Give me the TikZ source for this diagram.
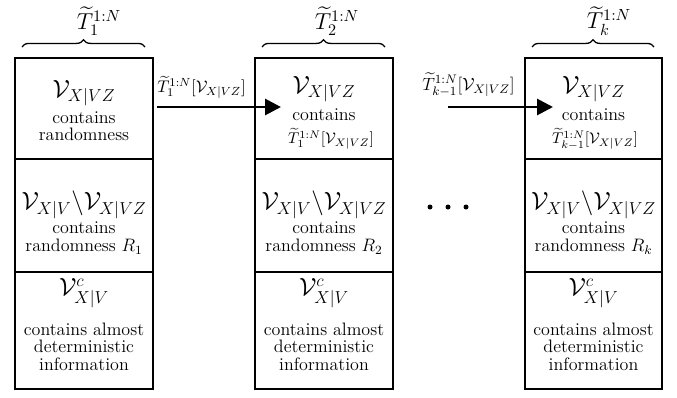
\documentclass[tikz,border=0pt]{standalone}
\usepackage{fix-cm}
\usepackage{amsmath,amssymb}
\usetikzlibrary{decorations.pathreplacing,arrows.meta}
\begin{document}
\begin{tikzpicture}[x=0.694pt,y=-0.694pt,
  part/.style={draw, line width=1.4pt, inner sep=0pt, minimum width=138*0.694pt},
  parttop/.style={part, minimum height=101*0.694pt},
  partmid/.style={part, minimum height=113*0.694pt},
  partbot/.style={part, minimum height=117*0.694pt},
  title/.style={inner sep=0pt, font=\LARGE},
  body/.style={inner sep=0pt, align=center, font=\fontsize{12.5}{12.2}\selectfont},
  lab/.style={inner sep=0pt, font=\fontsize{16}{19}\selectfont},
  alab/.style={inner sep=0pt, font=\fontsize{11.7}{14}\selectfont},
  ilab/.style={inner sep=0pt, font=\fontsize{10.8}{13}\selectfont},
  arr/.style={line width=2pt, -{Triangle[length=11pt,width=11pt]}},
  brc/.style={line width=0.9pt, decorate, decoration={brace, amplitude=5pt}},
  dot/.style={circle, fill, inner sep=0pt, minimum size=5*0.694pt}]
\useasboundingbox (0,0) rectangle (677,397);

% column 1
\node[parttop] (t1) at (84,108.5) {};
\node[partmid] (m1) at (84,215.5) {};
\node[partbot] (b1) at (84,330.5) {};
% column 2
\node[parttop] (t2) at (324,108.5) {};
\node[partmid] (m2) at (324,215.5) {};
\node[partbot] (b2) at (324,330.5) {};
% column 3
\node[parttop, minimum width=137*0.694pt] (t3) at (593.5,108.5) {};
\node[partmid, minimum width=137*0.694pt] (m3) at (593.5,215.5) {};
\node[partbot, minimum width=137*0.694pt] (b3) at (593.5,330.5) {};

% braces and labels
\coordinate (bl1) at (22,47); \coordinate (br1) at (145,47);
\coordinate (bl2) at (262,47); \coordinate (br2) at (385,47);
\coordinate (bl3) at (532,47); \coordinate (br3) at (654,47);
\draw[brc] (bl1) -- (br1);
\draw[brc] (bl2) -- (br2);
\draw[brc] (bl3) -- (br3);
\node[lab] (L1) at (99,21) {$\widetilde{T}_1^{1:N}$};
\node[lab] (L2) at (337,21) {$\widetilde{T}_2^{1:N}$};
\node[lab] (L3) at (609,21) {$\widetilde{T}_k^{1:N}$};

% top texts
\node[title] (v1) at (84,93) {$\mathcal{V}_{X|VZ}$};
\node[body] (c1) at (84,126) {contains\\randomness};
\node[title] (v2) at (324,89) {$\mathcal{V}_{X|VZ}$};
\node[body] (c2) at (324,115) {contains};
\node[ilab] (d2) at (331,139) {$\widetilde{T}_1^{1:N}[\mathcal{V}_{X|VZ}]$};
\node[title] (v3) at (593.5,89) {$\mathcal{V}_{X|VZ}$};
\node[body] (c3) at (593.5,115) {contains};
\node[ilab] (d3) at (595,139) {$\widetilde{T}_{k-1}^{1:N}[\mathcal{V}_{X|VZ}]$};

% middle texts
\foreach \n/\x/\r in {1/84/1,2/324/2,3/593.5/k}{
  \node[title] (w\n) at (\x,205) {$\mathcal{V}_{X|V}\backslash\mathcal{V}_{X|VZ}$};
  \node[body] (e\n) at (\x,238) {contains\\randomness $R_\r$};
}

% bottom texts
\foreach \n/\x in {1/84,2/324,3/593.5}{
  \node[title] (u\n) at (\x,293) {$\mathcal{V}_{X|V}^{c}$};
  \node[body] (f\n) at (\x,346.5) {contains almost\\deterministic\\information};
}

% arrows
\coordinate (s1) at (157,107); \coordinate (e1) at (281,107);
\coordinate (s2) at (448,107); \coordinate (e2) at (553,107);
\draw[arr] (s1) -- (e1);
\draw[arr] (s2) -- (e2);
\node[alab, anchor=south west] (a1) at (157,99) {$\widetilde{T}_1^{1:N}[\mathcal{V}_{X|VZ}]$};
\node[alab, anchor=south west, font=\fontsize{12.3}{14}\selectfont] (a2) at (422,97) {$\widetilde{T}_{k-1}^{1:N}[\mathcal{V}_{X|VZ}]$};

% dots
\node[dot] (p1) at (430,207) {};
\node[dot] (p2) at (448,207) {};
\node[dot] (p3) at (466,207) {};
\end{tikzpicture}
\end{document}
